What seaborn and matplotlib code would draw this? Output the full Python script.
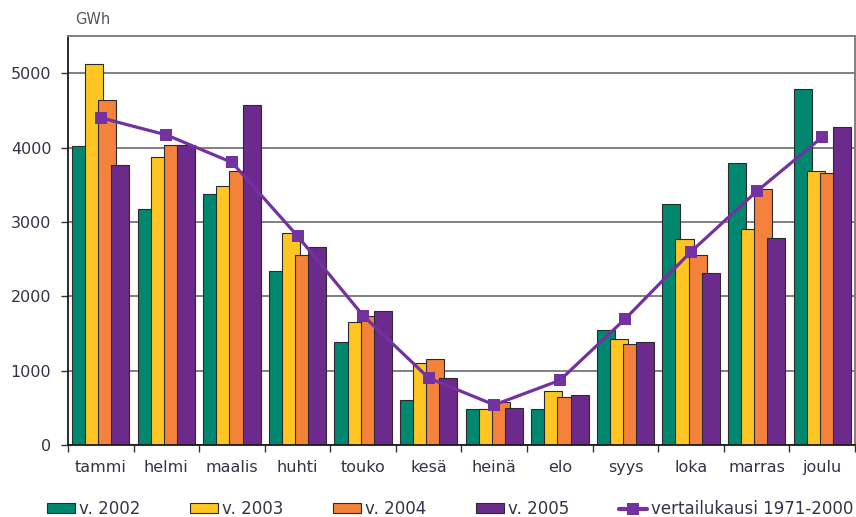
import numpy as np
import pandas as pd
import matplotlib
matplotlib.use("Agg")
import matplotlib.pyplot as plt
from matplotlib.patches import Patch
from matplotlib.lines import Line2D
from matplotlib.ticker import FixedLocator
import seaborn as sns

# Monthly electricity figures, GWh
months = ["tammi", "helmi", "maalis", "huhti", "touko", "kesä",
          "heinä", "elo", "syys", "loka", "marras", "joulu"]
years = ["v. 2002", "v. 2003", "v. 2004", "v. 2005"]
v2002 = [4020, 3180, 3370, 2340, 1380, 610, 480, 480, 1540, 3240, 3790, 4790]
v2003 = [5120, 3870, 3480, 2850, 1660, 1100, 480, 730, 1430, 2770, 2900, 3680]
v2004 = [4640, 4030, 3680, 2550, 1740, 1160, 580, 650, 1360, 2560, 3440, 3660]
v2005 = [3770, 4040, 4570, 2660, 1800, 900, 500, 670, 1380, 2310, 2790, 4280]
reference_label = "vertailukausi 1971-2000"
reference = [4400, 4170, 3800, 2810, 1740, 900, 540, 870, 1700, 2600, 3410, 4140]

colors = ["#00876F", "#FFC522", "#F4823A", "#6C2A8C"]
line_color = "#7232A0"
text_color = "#33334a"

df = pd.DataFrame({
    "month": months * 4,
    "year": np.repeat(years, len(months)),
    "value": v2002 + v2003 + v2004 + v2005,
})

sns.set_style("white")
plt.rcParams["font.family"] = ["DejaVu Sans"]

fig = plt.figure(figsize=(8.56, 5.17), dpi=100)
ax = fig.add_axes([68 / 856, 1 - 445 / 517, (855 - 68) / 856, (445 - 36) / 517])

sns.barplot(data=df, x="month", y="value", hue="year", order=months,
            hue_order=years, palette=dict(zip(years, colors)), width=0.8,
            saturation=1, edgecolor="#2b2b2b", linewidth=0.8, legend=False,
            errorbar=None, ax=ax, zorder=2)

# overlapping bars within each month group
new_w = 0.275
for p in ax.patches:
    cx = p.get_x() + p.get_width() / 2
    p.set_width(new_w)
    p.set_x(cx - new_w / 2)

sns.lineplot(x=np.arange(len(months)), y=reference, color=line_color,
             marker="s", markersize=8.5, markeredgewidth=0, linewidth=2.3,
             ax=ax, zorder=4)

ax.set_xlim(-0.5, len(months) - 0.5)
ax.set_ylim(0, 5500)
ax.set_xlabel("")
ax.set_ylabel("")

ax.set_yticks([0, 1000, 2000, 3000, 4000, 5000])
ax.yaxis.grid(True, color="#808080", linewidth=1.4)
ax.set_axisbelow(True)
ax.set_xticks(np.arange(len(months)))
ax.set_xticklabels(months)
ax.xaxis.set_minor_locator(FixedLocator(np.arange(-0.5, len(months), 1.0)))

ax.tick_params(axis="x", which="major", length=0, pad=11, labelsize=11.5,
               labelcolor=text_color)
ax.tick_params(axis="x", which="minor", bottom=True, length=5, width=1,
               color="#333333", direction="out")
ax.tick_params(axis="y", which="major", left=True, length=5, width=1,
               color="#333333", direction="out", pad=7, labelsize=11.5,
               labelcolor=text_color)

for side in ["left", "bottom"]:
    ax.spines[side].set_color("#1a1a1a")
    ax.spines[side].set_linewidth(1.3)
for side in ["top", "right"]:
    ax.spines[side].set_color("#808080")
    ax.spines[side].set_linewidth(1.4)

fig.text(75 / 856, 1 - 20 / 517, "GWh", fontsize=10.5, color="#555560",
         ha="left", va="center")

handles = [Patch(facecolor=c, edgecolor="#2b2b2b", linewidth=0.8) for c in colors]
handles.append(Line2D([], [], color=line_color, marker="s", markersize=8.5,
                      markeredgewidth=0, linewidth=3))
labels = years + [reference_label]
fig.legend(handles, labels, loc="center", bbox_to_anchor=(450 / 856, 1 - 509 / 517),
           ncol=5, frameon=False, fontsize=12, handlelength=1.7,
           handleheight=0.55, handletextpad=0.2, columnspacing=3.0,
           borderpad=0, labelcolor=text_color)

fig.savefig("out.png", dpi=100)
